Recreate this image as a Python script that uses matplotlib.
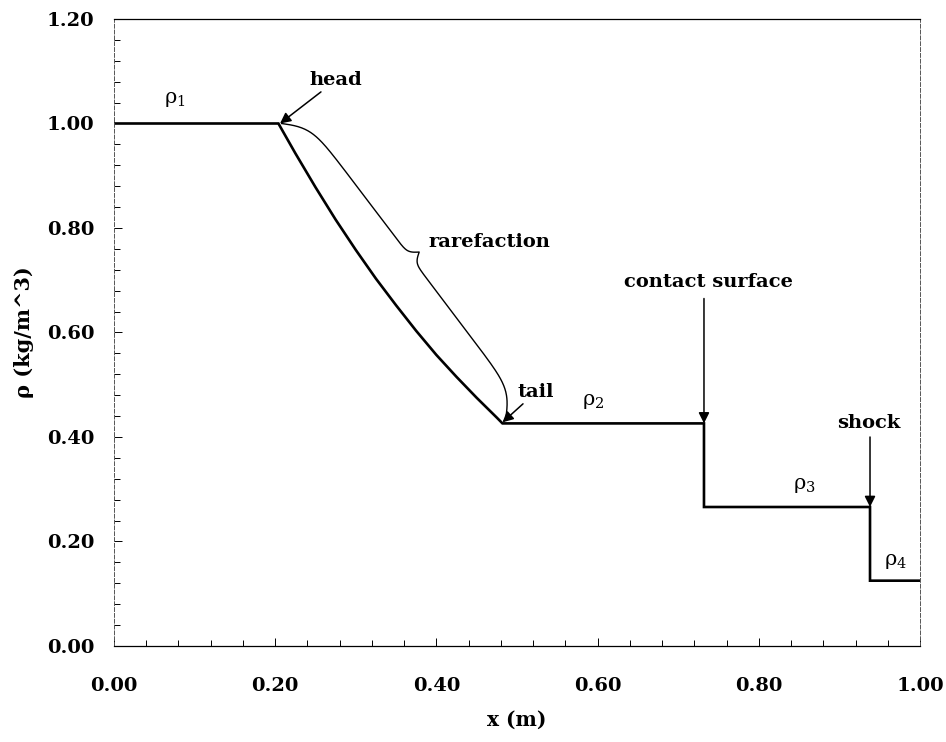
import numpy as np
import matplotlib
matplotlib.use("Agg")
import matplotlib.pyplot as plt
from matplotlib.ticker import MultipleLocator, FormatStrFormatter
from matplotlib.transforms import IdentityTransform

plt.rcParams['font.family'] = ['DejaVu Serif']
plt.rcParams['mathtext.fontset'] = 'dejavuserif'

# density profile (x in m, rho in kg/m^3)
x_pos = [0.00, 0.204, 0.225, 0.25, 0.275, 0.30, 0.325, 0.35, 0.375, 0.40,
         0.425, 0.45, 0.475, 0.482, 0.732, 0.732, 0.938, 0.938, 1.00]
rho = [1.000, 1.000, 0.943, 0.878, 0.816, 0.758, 0.703, 0.652, 0.603, 0.557,
       0.515, 0.475, 0.437, 0.426, 0.426, 0.266, 0.266, 0.125, 0.125]

# feature locations
x_head, rho_head = 0.204, 1.000
x_tail, rho_tail = 0.482, 0.426
x_contact, rho_contact = 0.732, 0.426
x_shock, rho_shock = 0.938, 0.266

fig = plt.figure(figsize=(9.46, 7.42), dpi=100)
ax = fig.add_axes([0.1205, 0.1294, 0.852, 0.845])

ax.plot(x_pos, rho, color='black', lw=1.9, solid_joinstyle='miter')

ax.set_xlim(0, 1)
ax.set_ylim(0, 1.2)
ax.xaxis.set_major_locator(MultipleLocator(0.2))
ax.xaxis.set_minor_locator(MultipleLocator(0.04))
ax.yaxis.set_major_locator(MultipleLocator(0.2))
ax.yaxis.set_minor_locator(MultipleLocator(0.04))
ax.xaxis.set_major_formatter(FormatStrFormatter('%.2f'))
ax.yaxis.set_major_formatter(FormatStrFormatter('%.2f'))
ax.tick_params(which='both', direction='in', top=False, right=False,
               labelsize=14, width=0.7)
ax.tick_params(which='major', length=6)
ax.tick_params(which='minor', length=4)
ax.tick_params(axis='y', pad=14)
ax.tick_params(axis='x', pad=22)
for lab in ax.get_xticklabels() + ax.get_yticklabels():
    lab.set_fontweight('bold')

ax.spines['top'].set_linewidth(0.9)
ax.spines['bottom'].set_linewidth(0.9)
for s in ('left', 'right'):
    ax.spines[s].set_linewidth(0.7)
    ax.spines[s].set_color('#555555')
    ax.spines[s].set_linestyle((0, (4, 2)))

ax.set_xlabel('x (m)', fontsize=14.5, fontweight='bold', labelpad=11)
ax.set_ylabel('ρ (kg/m^3)', fontsize=15, fontweight='bold', labelpad=9)

arrow = dict(arrowstyle='-|>', color='black', lw=1.1, mutation_scale=16,
             shrinkA=0, shrinkB=0)
txt = dict(fontsize=14, fontweight='bold', color='black')
sub = dict(fontsize=15, color='black')

ax.text(0.076, 1.045, r'ρ$_1$', ha='center', va='center', **sub)
ax.text(0.594, 0.467, r'ρ$_2$', ha='center', va='center', **sub)
ax.text(0.857, 0.308, r'ρ$_3$', ha='center', va='center', **sub)
ax.text(0.969, 0.161, r'ρ$_4$', ha='center', va='center', **sub)

ax.annotate('head', xy=(x_head + 0.002, rho_head), xytext=(0.243, 1.083),
            ha='left', va='center', arrowprops=arrow, **txt)
ax.annotate('tail', xy=(x_tail, rho_tail + 0.002), xytext=(0.501, 0.486),
            ha='left', va='center', arrowprops=arrow, **txt)
ax.text(0.738, 0.697, 'contact surface', ha='center', va='center', **txt)
ax.annotate('', xy=(x_contact, rho_contact), xytext=(x_contact, 0.665),
            arrowprops=arrow)
ax.text(0.937, 0.427, 'shock', ha='center', va='center', **txt)
ax.annotate('', xy=(x_shock, rho_shock), xytext=(x_shock, 0.400),
            arrowprops=arrow)
ax.text(0.390, 0.773, 'rarefaction', ha='left', va='center', **txt)

# curly brace alongside the rarefaction, built in pixel space
p1 = ax.transData.transform((x_head + 0.004, rho_head))
p2 = ax.transData.transform((x_tail + 0.004, rho_tail + 0.008))
d = p2 - p1
L = np.hypot(*d)
t_dir = d / L
n_dir = np.array([t_dir[1], -t_dir[0]])
if n_dir[0] < 0:
    n_dir = -n_dir
w_body, w_tip = 22.0, 10.0
u = np.linspace(0, L / 2, 300)
half = (w_body * (2 / (1 + np.exp(-0.09 * u)) - 1) +
        w_tip * 2 / (1 + np.exp(-0.3 * (u - L / 2))))
uu = np.concatenate([u, L - u[::-1]])
vv = np.concatenate([half, half[::-1]])
pts = p1 + np.outer(uu, t_dir) + np.outer(vv, n_dir)
ax.plot(pts[:, 0], pts[:, 1], color='black', lw=1.0,
        transform=IdentityTransform(), clip_on=False)

fig.savefig('out.png', dpi=100)
